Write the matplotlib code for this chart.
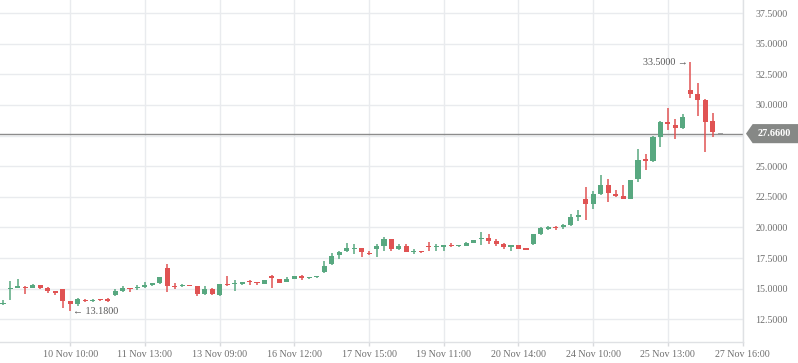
import numpy as np
import matplotlib
matplotlib.use("Agg")
import matplotlib.pyplot as plt
from matplotlib.patches import Polygon
from matplotlib import transforms

##############################
#  data
##############################
opens = [13.78, 15.00, 15.08, 15.14, 15.08, 15.27, 15.03, 14.78, 14.95, 14.00,
         13.72, 14.10, 14.00, 14.13, 14.08, 14.50, 14.80, 15.03, 15.08, 15.14,
         15.30, 15.43, 16.66, 15.24, 15.24, 15.27, 15.24, 14.56, 14.95, 14.48,
         15.35, 15.38, 15.41, 15.60, 15.57, 15.41, 16.02, 15.80, 15.54, 15.83,
         16.00, 15.86, 15.94, 16.34, 16.99, 17.72, 18.04, 18.25, 18.33, 17.93,
         18.28, 18.52, 19.03, 18.28, 18.50, 18.01, 18.04, 18.52, 18.41, 18.44,
         18.58, 18.47, 18.52, 18.76, 19.03, 19.14, 18.93, 18.66, 18.39, 18.58,
         18.28, 18.66, 19.45, 19.90, 20.03, 20.06, 20.20, 20.88, 22.32, 21.92,
         22.73, 23.47, 22.73, 22.60, 22.32, 23.92, 25.56, 25.45, 27.41, 28.64,
         28.36, 28.09, 31.22, 30.89, 30.40, 28.69, 27.66]
highs = [14.05, 15.60, 15.82, 15.20, 15.40, 15.27, 15.14, 14.80, 14.95, 14.00,
         14.21, 14.13, 14.13, 14.20, 14.21, 15.00, 15.22, 15.03, 15.27, 15.52,
         15.46, 15.98, 17.04, 15.46, 15.38, 15.30, 15.24, 15.19, 15.08, 15.40,
         16.00, 15.73, 15.57, 15.68, 15.57, 15.73, 16.15, 15.80, 15.97, 16.05,
         16.15, 15.97, 16.07, 17.23, 17.90, 18.06, 18.74, 18.66, 18.33, 18.06,
         18.66, 19.22, 19.03, 18.66, 18.66, 18.23, 18.09, 18.82, 18.66, 18.52,
         18.74, 18.58, 18.82, 18.98, 19.60, 19.46, 19.03, 18.71, 18.58, 18.58,
         18.33, 19.49, 20.06, 20.15, 20.12, 20.25, 21.10, 21.43, 23.33, 23.00,
         24.28, 23.96, 23.06, 23.47, 23.87, 26.40, 26.00, 27.47, 28.69, 29.72,
         28.85, 29.26, 33.50, 31.82, 30.49, 29.37, 27.68]
lows = [13.64, 14.10, 15.05, 14.60, 15.05, 14.97, 14.67, 14.48, 13.42, 13.18,
        13.59, 13.94, 13.92, 14.02, 13.88, 14.37, 14.70, 14.73, 14.92, 15.08,
        15.24, 15.38, 14.70, 14.97, 15.14, 15.19, 14.43, 14.48, 14.50, 14.43,
        15.22, 14.78, 15.27, 15.33, 15.27, 15.35, 15.05, 15.46, 15.54, 15.78,
        15.75, 15.83, 15.89, 16.29, 16.91, 17.39, 17.98, 17.82, 17.55, 17.72,
        17.55, 18.04, 18.04, 18.12, 17.96, 17.80, 17.93, 18.04, 18.09, 18.09,
        18.39, 18.39, 18.52, 18.76, 18.60, 18.68, 18.52, 18.28, 18.04, 18.28,
        18.12, 18.60, 19.36, 19.79, 19.79, 19.87, 20.15, 20.56, 20.61, 21.51,
        22.65, 22.11, 22.49, 22.30, 22.32, 23.70, 24.69, 25.37, 26.60, 27.96,
        27.22, 28.04, 30.60, 29.13, 26.19, 27.36, 27.64]
closes = [13.86, 15.06, 15.19, 15.05, 15.30, 15.05, 14.80, 14.62, 14.00, 13.75,
          14.13, 14.00, 14.10, 14.07, 14.03, 14.80, 15.05, 14.97, 15.14, 15.30,
          15.43, 15.92, 15.22, 15.16, 15.30, 15.22, 14.56, 14.95, 14.60, 15.35,
          15.27, 15.43, 15.57, 15.52, 15.43, 15.68, 15.90, 15.50, 15.80, 16.00,
          15.91, 15.94, 16.02, 16.88, 17.69, 18.01, 18.33, 18.33, 17.96, 17.85,
          18.50, 19.06, 18.25, 18.50, 17.96, 18.09, 17.96, 18.41, 18.52, 18.52,
          18.47, 18.55, 18.76, 18.98, 19.09, 18.93, 18.63, 18.39, 18.58, 18.28,
          18.20, 19.44, 19.98, 20.06, 19.96, 20.20, 20.83, 21.02, 21.92, 22.73,
          23.47, 22.79, 22.57, 22.32, 23.87, 25.51, 25.45, 27.36, 28.64, 28.47,
          28.15, 28.99, 30.92, 30.40, 28.64, 27.82, 27.66]

tick_idx = [9, 19, 29, 39, 49, 59, 69, 79, 89, 99]
tick_labels = ["10 Nov 10:00", "11 Nov 13:00", "13 Nov 09:00", "16 Nov 12:00",
               "17 Nov 15:00", "19 Nov 11:00", "20 Nov 14:00", "24 Nov 10:00",
               "25 Nov 13:00", "27 Nov 16:00"]
y_ticks = [12.5, 15.0, 17.5, 20.0, 22.5, 25.0, 27.5, 30.0, 32.5, 35.0, 37.5]
last_price = 27.66
max_idx, max_val = 92, 33.50
min_idx, min_val = 9, 13.18

##############################
#  style
##############################
UP = "#58a880"
DOWN = "#e05353"
FLAT = "#a0a0a0"
GRID = "#e9ebee"
TXT = "#6e6e6e"
TAG = "#868886"
FONT = ["Liberation Serif", "DejaVu Sans"]

plt.rcParams['font.family'] = FONT

fig = plt.figure(figsize=(7.98, 3.63), dpi=100)
ax = fig.add_axes([0, 21/363., 743/798., 342/363.])

x = np.arange(len(opens))
o = np.array(opens); h = np.array(highs); l = np.array(lows); c = np.array(closes)
cols = np.where(c > o, UP, np.where(c < o, DOWN, FLAT))

ax.vlines(x, l, h, colors=cols, lw=1.1, zorder=3)
bot = np.minimum(o, c)
hgt = np.maximum(np.abs(c - o), 0.09)
ax.bar(x, hgt, bottom=bot, width=0.68, color=cols, edgecolor='none', zorder=4)

ax.set_xlim(-0.4, 99.05)
ax.set_ylim(10.65, 38.57)

#-- grid
ax.set_xticks(tick_idx)
ax.set_xticklabels(tick_labels)
ax.set_yticks(y_ticks)
#-- the last price tag hides the label closest to it
ax.set_yticklabels(["" if abs(v - last_price) < 1.0 else "%.4f" % v for v in y_ticks])
ax.grid(True, color=GRID, lw=1, zorder=0)
ax.set_axisbelow(True)

ax.yaxis.tick_right()
ax.tick_params(axis='y', length=0, pad=9, labelsize=7.2, labelcolor=TXT)
ax.tick_params(axis='x', length=3, width=1, color="#d8dadd", pad=2.5,
               labelsize=7.2, labelcolor=TXT)

for s in ['left', 'top']:
    ax.spines[s].set_visible(False)
for s in ['right', 'bottom']:
    ax.spines[s].set_color("#dfe1e4")
    ax.spines[s].set_linewidth(1)

#-- last price line + tag
ax.axhline(last_price, color="#8c8c8c", lw=1, zorder=2)
tr = transforms.blended_transform_factory(ax.transAxes, ax.transData)
hh = 0.78
tag = Polygon([(1.004, last_price), (1.013, last_price + hh), (1.075, last_price + hh),
               (1.075, last_price - hh), (1.013, last_price - hh)],
              closed=True, transform=tr, fc=TAG, ec='none', clip_on=False, zorder=5)
ax.add_patch(tag)
ax.text(1.042, last_price, "%.4f" % last_price, transform=tr, ha='center', va='center',
        color='white', fontsize=7.4, fontweight='bold', clip_on=False, zorder=6)

#-- max / min annotations
ax.annotate("%.4f \u2192" % max_val, xy=(max_idx, max_val), xytext=(-2, 0),
            textcoords='offset points', ha='right', va='center',
            fontsize=7.2, color="#555555")
ax.annotate("\u2190 %.4f" % min_val, xy=(min_idx, min_val), xytext=(2, 0),
            textcoords='offset points', ha='left', va='center',
            fontsize=7.2, color="#555555")

fig.savefig("out.png", dpi=100)
